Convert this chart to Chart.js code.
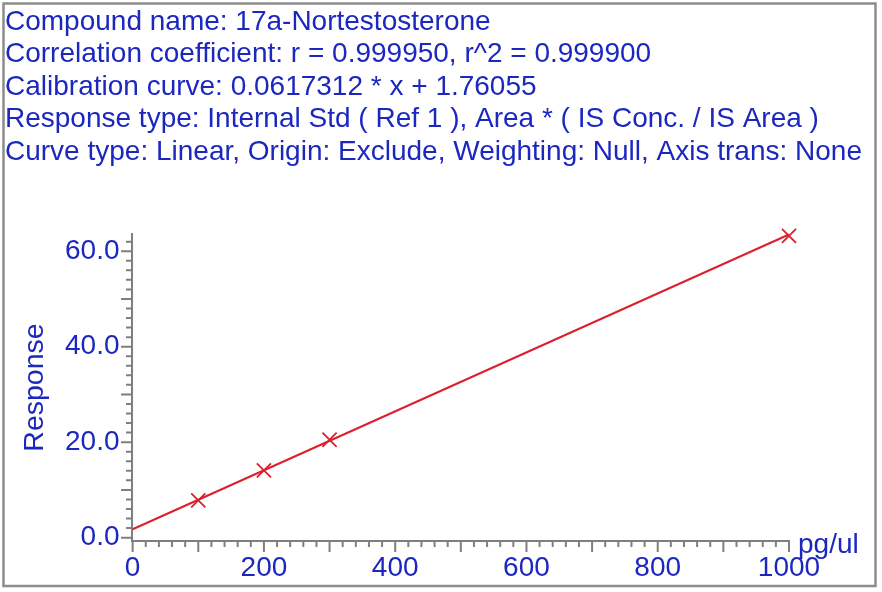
<!DOCTYPE html>
<html>
<head>
<meta charset="utf-8">
<title>17a-Nortestosterone calibration</title>
<script src="https://cdn.jsdelivr.net/npm/chart.js@4.4.1/dist/chart.umd.min.js"></script>
<style>
  html, body { margin: 0; padding: 0; background: #fff; }
  canvas { display: block; }
</style>
</head>
<body>
<canvas id="calib" width="882" height="592"></canvas>
<script>
// header lines printed above the plot
const headerLines = [
  'Compound name: 17a-Nortestosterone',
  'Correlation coefficient: r = 0.999950, r^2 = 0.999900',
  'Calibration curve: 0.0617312 * x + 1.76055',
  'Response type: Internal Std ( Ref 1 ), Area * ( IS Conc. / IS Area )',
  'Curve type: Linear, Origin: Exclude, Weighting: Null, Axis trans: None'
];

// calibration standards (pg/ul vs response)
const stdConc = [100, 200, 300, 1000];
const stdResp = [7.8, 14.1, 20.5, 63.2];

// fitted line end points
const fitConc = [0, 1000];
const fitResp = [1.76, 63.49];

// axis ticks
const xTicks = [0, 200, 400, 600, 800, 1000];
const yTicks = [0, 20, 40, 60];

const BLUE = '#1b27bf';
const RED = '#dc1f2d';
const GREY = '#7f7f7f';
const FONT = 'Liberation Sans, Arial, Helvetica, sans-serif';

const xMinor = [];
for (let v = 0; v <= 1000; v += 20) xMinor.push(v);
const yMinor = [];
for (let v = 0; v <= 62; v += 2) yMinor.push(v);

// header text, minor tick marks, unit label and outer frame
const frameAndTicks = {
  id: 'frameAndTicks',
  afterDraw(chart) {
    const ctx = chart.ctx;
    const x = chart.scales.x, y = chart.scales.y;
    const area = chart.chartArea;
    ctx.save();

    ctx.fillStyle = BLUE;
    ctx.font = '28px ' + FONT;
    ctx.textAlign = 'left';
    ctx.textBaseline = 'middle';
    headerLines.forEach((t, i) => ctx.fillText(t, 5, 22 + i * 32.5));

    ctx.strokeStyle = GREY;
    ctx.lineWidth = 2;
    ctx.beginPath();
    xMinor.forEach(v => {
      const px = x.getPixelForValue(v);
      const len = v % 100 === 0 ? 11 : 6;
      ctx.moveTo(px, area.bottom);
      ctx.lineTo(px, area.bottom + len);
    });
    yMinor.forEach(v => {
      const py = y.getPixelForValue(v);
      const len = v % 10 === 0 ? 11 : 6;
      ctx.moveTo(area.left, py);
      ctx.lineTo(area.left - len, py);
    });
    ctx.stroke();

    ctx.textBaseline = 'alphabetic';
    ctx.fillText('pg/ul', area.right + 9, area.bottom + 12);

    ctx.strokeStyle = '#8c8c8c';
    ctx.lineWidth = 2.5;
    ctx.strokeRect(3.5, 3.5, 872, 582.5);
    ctx.restore();
  }
};

new Chart(document.getElementById('calib'), {
  type: 'scatter',
  data: {
    datasets: [
      {
        label: 'fit',
        data: fitConc.map((c, i) => ({ x: c, y: fitResp[i] })),
        showLine: true,
        borderColor: RED,
        borderWidth: 2,
        pointRadius: 0,
        clip: false,
        order: 2
      },
      {
        label: 'standards',
        data: stdConc.map((c, i) => ({ x: c, y: stdResp[i] })),
        pointStyle: 'crossRot',
        pointRadius: 10,
        borderColor: RED,
        borderWidth: 1.8,
        clip: false,
        order: 1
      }
    ]
  },
  options: {
    responsive: false,
    animation: false,
    layout: { padding: { left: 5, right: 93, top: 234, bottom: 0 } },
    plugins: {
      legend: { display: false },
      tooltip: { enabled: false }
    },
    scales: {
      x: {
        type: 'linear',
        min: -1,
        max: 1000,
        afterFit: s => { s.height = 51; },
        afterBuildTicks: s => { s.ticks = xTicks.map(v => ({ value: v })); },
        grid: { display: false, drawTicks: false },
        border: { display: true, color: GREY, width: 2 },
        ticks: {
          autoSkip: false,
          maxRotation: 0,
          padding: 10,
          color: BLUE,
          font: { family: FONT, size: 28 },
          callback: v => String(v)
        }
      },
      y: {
        type: 'linear',
        min: -0.7,
        max: 63.6,
        afterFit: s => { s.width = 127; },
        afterBuildTicks: s => { s.ticks = yTicks.map(v => ({ value: v })); },
        grid: { display: false, drawTicks: false },
        border: { display: true, color: GREY, width: 2 },
        title: {
          display: true,
          text: 'Response',
          color: BLUE,
          font: { family: FONT, size: 28.5 },
          padding: { top: 13, bottom: 0 }
        },
        ticks: {
          autoSkip: false,
          padding: 12.5,
          color: BLUE,
          font: { family: FONT, size: 28 },
          callback: v => v.toFixed(1)
        }
      }
    }
  },
  plugins: [frameAndTicks]
});
</script>
</body>
</html>
